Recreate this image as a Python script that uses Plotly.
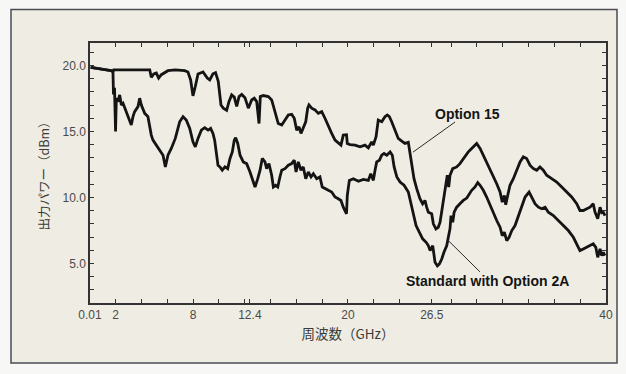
import plotly.graph_objects as go

# Output power vs frequency, two source configurations (GHz, dBm)
opt15_ghz = [0.06, 0.89, 1.66, 1.79, 1.85, 4.64, 4.76, 4.95, 5.15, 5.33,
             5.54, 6.05, 6.62, 7.35, 7.6, 7.81, 7.99, 8.17, 8.38, 8.77,
             9.1, 9.29, 9.54, 9.74, 9.95, 10.16, 10.34, 10.6, 10.78, 10.99,
             11.19, 11.38, 11.56, 11.77, 12.02, 12.28, 12.54, 12.74, 12.93, 13.11,
             13.21, 13.44, 13.83, 14.09, 14.35, 14.6, 14.87, 15.12, 15.38, 15.64,
             15.84, 16.03, 16.21, 16.36, 16.54, 16.73, 16.88, 16.98, 17.19, 17.45,
             17.7, 17.97, 18.22, 18.48, 18.74, 19.0, 19.25, 19.46, 19.64, 19.89,
             19.95, 20.16, 20.55, 20.94, 21.32, 21.58, 21.84, 21.97, 22.18, 22.35,
             22.62, 22.87, 23.05, 23.21, 23.39, 23.65, 23.9, 24.17, 24.42, 24.68,
             24.81, 24.94, 25.12, 25.33, 25.58, 25.79, 25.97, 26.1, 26.23, 26.49,
             26.62, 26.82, 27.0, 27.14, 27.27, 27.44, 27.6, 27.7, 27.81, 27.91,
             28.12, 28.43, 28.68, 28.94, 29.33, 29.59, 29.85, 29.98, 30.24, 30.49,
             30.75, 31.01, 31.27, 31.53, 31.79, 31.96, 32.12, 32.23, 32.38, 32.56,
             32.82, 33.08, 33.34, 33.59, 33.85, 34.11, 34.37, 34.63, 34.88, 35.14,
             35.4, 35.79, 36.18, 36.57, 36.95, 37.34, 37.73, 37.98, 38.24, 38.5,
             38.76, 39.01, 39.15, 39.36, 39.54, 39.67, 39.79, 39.92]
opt15_dbm = [19.85, 19.75, 19.6, 19.55, 19.67, 19.67, 19.1, 19.35, 19.42, 19.04,
             19.3, 19.6, 19.67, 19.6, 19.5, 18.9, 17.7, 18.4, 19.35, 19.5,
             19.04, 18.9, 19.37, 19.45, 18.8, 17.0, 16.76, 16.6, 17.25, 17.77,
             17.6, 16.9, 17.64, 17.8, 17.56, 16.76, 17.39, 17.52, 17.26, 15.6,
             17.64, 17.72, 17.64, 17.39, 16.5, 15.6, 15.48, 15.86, 16.25, 16.3,
             16.0, 15.1, 15.35, 14.85, 15.35, 15.73, 16.76, 17.0, 16.76, 16.63,
             16.37, 16.5, 16.0, 15.35, 14.85, 14.34, 14.09, 13.96, 14.72, 14.75,
             14.09, 14.0, 13.96, 13.83, 13.96, 13.76, 14.2, 13.96, 14.6, 15.86,
             15.73, 16.12, 16.25, 16.12, 15.73, 15.1, 14.47, 14.27, 14.09, 14.17,
             13.45, 12.69, 11.42, 10.66, 9.9, 9.52, 9.77, 9.26, 8.88, 8.76,
             8.0, 7.62, 7.74, 8.12, 8.88, 10.15, 10.92, 11.68, 10.79, 11.68,
             12.18, 12.31, 12.56, 12.95, 13.45, 13.71, 14.0, 14.09, 13.71, 13.2,
             12.69, 12.06, 11.55, 11.04, 10.41, 9.64, 10.15, 9.44, 10.15, 10.92,
             11.42, 12.06, 12.69, 13.07, 12.95, 12.44, 12.18, 12.06, 12.31, 12.06,
             11.68, 11.42, 11.17, 10.79, 10.41, 10.03, 9.52, 9.01, 9.01, 9.14,
             9.26, 9.52, 8.88, 8.38, 9.26, 8.84, 8.88, 8.62]

std_ghz = [0.06, 0.89, 1.66, 1.79, 1.83, 1.91, 1.99, 2.05, 2.18, 2.31,
           2.44, 2.57, 2.7, 2.95, 3.21, 3.34, 3.47, 3.73, 3.86, 3.99,
           4.25, 4.5, 4.76, 4.89, 5.15, 5.41, 5.67, 5.85, 6.05, 6.31,
           6.62, 6.96, 7.22, 7.47, 7.74, 7.99, 8.17, 8.38, 8.64, 8.9,
           9.16, 9.36, 9.54, 9.67, 9.93, 10.08, 10.26, 10.47, 10.68, 10.86,
           11.04, 11.19, 11.3, 11.46, 11.64, 11.89, 12.15, 12.41, 12.67, 12.8,
           13.01, 13.19, 13.36, 13.57, 13.7, 13.88, 14.09, 14.22, 14.4, 14.56,
           14.73, 14.87, 15.12, 15.38, 15.64, 15.84, 15.98, 16.15, 16.36, 16.54,
           16.73, 16.93, 17.14, 17.32, 17.58, 17.83, 18.01, 18.22, 18.48, 18.74,
           19.0, 19.25, 19.46, 19.64, 19.83, 19.89, 19.95, 20.11, 20.42, 20.81,
           21.19, 21.58, 21.77, 21.97, 22.1, 22.23, 22.44, 22.62, 22.8, 23.01,
           23.27, 23.44, 23.58, 23.79, 24.04, 24.35, 24.68, 24.87, 25.07, 25.28,
           25.54, 25.79, 26.06, 26.23, 26.37, 26.57, 26.75, 26.93, 27.08, 27.27,
           27.44, 27.66, 27.78, 27.91, 27.99, 28.12, 28.23, 28.43, 28.68, 28.94,
           29.21, 29.33, 29.59, 29.85, 30.06, 30.24, 30.49, 30.75, 31.01, 31.27,
           31.53, 31.79, 31.96, 32.12, 32.31, 32.49, 32.7, 32.95, 33.21, 33.47,
           33.73, 34.04, 34.25, 34.5, 34.76, 35.02, 35.28, 35.53, 35.92, 36.31,
           36.69, 37.08, 37.47, 37.73, 37.98, 38.24, 38.5, 38.76, 39.01, 39.21,
           39.36, 39.54, 39.67, 39.79, 39.92]
std_dbm = [19.85, 19.75, 19.6, 19.5, 17.8, 18.3, 15.0, 17.52, 17.26, 17.77,
           17.0, 17.13, 16.76, 16.12, 15.48, 16.12, 16.5, 16.88, 17.52, 17.0,
           16.37, 16.12, 14.72, 14.34, 13.96, 13.58, 13.2, 12.31, 13.2, 13.71,
           14.47, 15.73, 16.12, 15.86, 15.23, 14.21, 13.83, 14.47, 15.1, 15.28,
           15.1, 15.23, 14.85, 14.34, 12.44, 12.31, 12.06, 12.31, 12.18, 12.95,
           13.45, 14.34, 14.52, 14.09, 13.2, 12.69, 12.56, 11.93, 11.04, 10.79,
           11.42, 12.06, 12.95, 12.69, 12.18, 12.56, 11.68, 10.79, 10.92, 10.79,
           11.55, 12.06, 12.18, 12.44, 12.56, 12.82, 11.93, 12.69, 12.06, 12.31,
           11.42, 11.93, 11.55, 11.8, 11.42, 11.55, 10.79, 10.66, 10.54, 10.41,
           10.03, 9.9, 9.77, 9.26, 8.88, 8.76, 10.15, 11.29, 11.42, 11.22,
           11.37, 11.29, 11.8, 11.29, 12.06, 12.69, 12.82, 13.2, 13.33, 13.2,
           13.45, 13.2, 12.31, 11.55, 11.17, 10.92, 10.41, 9.64, 8.63, 7.87,
           7.36, 6.86, 6.6, 6.35, 5.97, 6.35, 5.08, 4.82, 4.95, 5.33,
           5.84, 6.35, 6.98, 7.62, 8.63, 8.12, 8.88, 9.26, 9.52, 9.77,
           9.95, 10.15, 10.54, 10.79, 11.12, 10.92, 10.54, 10.03, 9.39, 8.88,
           8.25, 7.74, 7.1, 7.36, 6.73, 6.98, 7.49, 7.87, 8.63, 9.39,
           10.03, 10.41, 10.03, 9.52, 9.26, 9.14, 9.26, 8.88, 8.63, 8.25,
           7.87, 7.49, 6.98, 6.48, 5.97, 6.1, 6.22, 6.35, 6.48, 6.22,
           5.46, 6.1, 5.59, 5.84, 5.59]

assert len(opt15_ghz) == len(opt15_dbm)
assert len(std_ghz) == len(std_dbm)

# Axis ticks: labelled values plus the unlabelled minor marks
x_labelled = [0.01, 2, 8, 12.4, 20, 26.5, 40]
x_plain = [4, 6, 10, 12, 14, 16, 18, 22, 24, 28, 30, 32, 34, 36, 38]
y_labelled = [5, 10, 15, 20]
y_plain = [3, 4, 6, 7, 8, 9, 11, 12, 13, 14, 16, 17, 18, 19, 21]

x_ticks = x_labelled + x_plain
x_text = [("%g" % v) for v in x_labelled] + [""] * len(x_plain)
y_ticks = y_labelled + y_plain
y_text = [("%.1f" % v) for v in y_labelled] + [""] * len(y_plain)

INK = "#141414"
AXIS = "#333333"
LABEL_FONT = dict(family="Liberation Sans, Arial, sans-serif", size=12, color="#4a4a4a")
CJK = "Noto Sans CJK JP, sans-serif"

fig = go.Figure()
for xs, ys, name in [(opt15_ghz, opt15_dbm, "Option 15"),
                     (std_ghz, std_dbm, "Standard with Option 2A")]:
    fig.add_trace(go.Scatter(x=xs, y=ys, mode="lines", name=name,
                             line=dict(color=INK, width=2.8),
                             showlegend=False, hoverinfo="skip"))

# Callout leader lines
fig.add_shape(type="line", xref="x", yref="y", x0=28.3, y0=15.71, x1=25.04, y1=13.43,
              line=dict(color="#2a2a2a", width=1))
fig.add_shape(type="line", xref="x", yref="y", x0=27.75, y0=6.76, x1=30.23, y1=4.36,
              line=dict(color="#2a2a2a", width=1))

# Outer frame around the whole figure
fig.add_shape(type="rect", xref="paper", yref="paper", layer="below",
              x0=-79 / 516, x1=527 / 516, y0=(303 - 363) / 259.5, y1=(303 - 10) / 259.5,
              line=dict(color="#4b4b58", width=1.5), fillcolor="#efede3")

callout_font = dict(family="Liberation Sans, Arial, sans-serif", size=14, color=INK)
fig.add_annotation(x=29.23, y=16.32, xref="x", yref="y", text="<b>Option 15</b>",
                   showarrow=False, font=callout_font, xanchor="center", yanchor="middle")
fig.add_annotation(x=30.78, y=3.68, xref="x", yref="y", text="<b>Standard with Option 2A</b>",
                   showarrow=False, font=callout_font, xanchor="center", yanchor="middle")

fig.update_layout(
    width=626, height=374,
    margin=dict(l=90, r=20, t=43, b=71),
    paper_bgcolor="#f7f7f5",
    plot_bgcolor="#f6f4ee",
    xaxis=dict(range=[0.01, 40], tickmode="array", tickvals=x_ticks, ticktext=x_text,
               ticks="inside", ticklen=4, tickwidth=1, tickcolor=AXIS,
               showline=True, linecolor=AXIS, linewidth=1.5, mirror="ticks",
               showgrid=False, zeroline=False, tickfont=LABEL_FONT,
               title=dict(text="周波数（GHz）", font=dict(family=CJK, size=13.5, color="#3a3a3a"),
                          standoff=8)),
    yaxis=dict(range=[2.0, 21.7], tickmode="array", tickvals=y_ticks, ticktext=y_text,
               ticks="inside", ticklen=4, tickwidth=1, tickcolor=AXIS,
               showline=True, linecolor=AXIS, linewidth=1.5, mirror="ticks",
               showgrid=False, zeroline=False, tickfont=LABEL_FONT,
               title=dict(text="出力パワー（dBm）", font=dict(family=CJK, size=12.5, color="#3a3a3a"),
                          standoff=10)),
)

fig.write_html("out.html")
